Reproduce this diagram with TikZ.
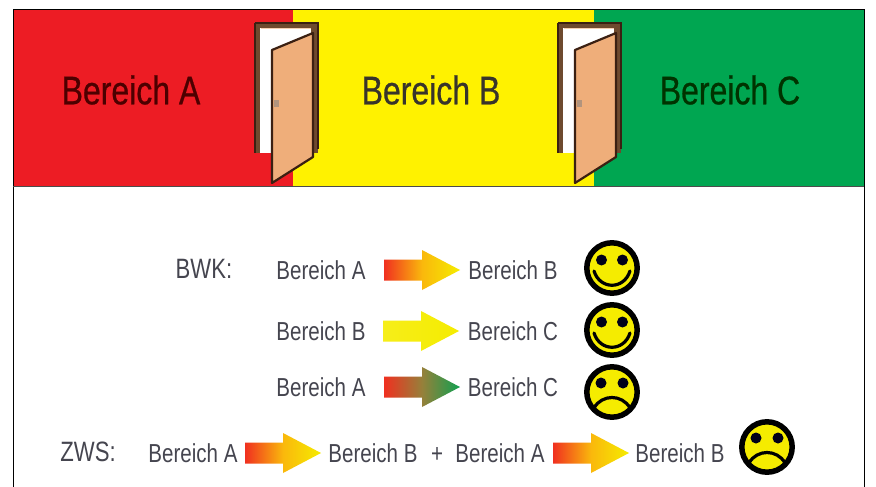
\documentclass[tikz,border=0pt]{standalone}
\usepackage{fontspec}
\setmainfont[FakeStretch=0.79]{Liberation Sans}
\newfontfamily\bigfont[FakeStretch=0.8,FakeBold=0.6]{Liberation Sans}
\definecolor{bandred}{HTML}{ED1C24}
\definecolor{bandyel}{HTML}{FFF200}
\definecolor{bandgrn}{HTML}{00A651}
\definecolor{doorfill}{HTML}{EFAE7A}
\definecolor{doordark}{HTML}{3B2012}
\definecolor{framebr}{HTML}{6E4A2E}
\definecolor{labelgray}{HTML}{45454F}
\definecolor{faceyel}{HTML}{F5EC00}
\definecolor{arrred}{HTML}{F03020}
\definecolor{arrmid}{HTML}{FAB80C}
\definecolor{arrbrown}{HTML}{96803A}
\definecolor{arrgreen}{HTML}{10A050}
\tikzset{
  x=1pt,y=-1pt,
  small/.style={font=\fontsize{26}{26}\selectfont,text=labelgray,inner sep=0pt},
  tagtext/.style={font=\fontsize{28}{28}\selectfont,text=labelgray,inner sep=0pt},
  big/.style={font=\bigfont\fontsize{40}{40}\selectfont,inner sep=0pt},
  warm/.style={left color=arrred,right color=faceyel,middle color=arrmid},
  pale/.style={left color=faceyel!90!white,right color=faceyel},
  mixed/.style={left color=arrred,right color=arrgreen,middle color=arrbrown},
  facering/.style={draw=black,line width=5.5pt,fill=faceyel},
  faceeye/.style={fill=black!90!blue},
  facemouth/.style={draw=black,line width=3.2pt,line cap=round},
  pics/blockarr/.style={code={
    \path[#1] (-38,-10.5) -- (0,-10.5) -- (0,-20) -- (38,0) -- (0,20) -- (0,10.5) -- (-38,10.5) -- cycle;
  }},
  doorframe/.pic={
    \fill[framebr] (0,0) rectangle (63,130);
    \fill[white] (5,5) rectangle (58,130);
    \fill[framebr] (56,5) rectangle (63,130);
    \draw[doordark,line width=1.2pt] (0,0) -- (63,0) -- (63,126);
    \draw[doordark,line width=1.2pt] (0,0) -- (0,130);
    \draw[doorfill!60!white,line width=1pt] (6,6) -- (56,6);
    \draw[doordark,line width=2.2pt,fill=doorfill,line join=round] (17,27) -- (58,10) -- (58,134) -- (17,160) -- cycle;
    \fill[gray!55!doorfill] (19,77) rectangle (24,84);
  },
  smileface/.pic={
    \draw[facering] (0,0) circle [radius=25.2];
    \fill[faceeye] (-10.5,-8) circle [radius=5.5];
    \fill[faceeye] (10.5,-8) circle [radius=5.5];
    \draw[facemouth] (-18,3) .. controls (-12,22) and (12,22) .. (18,3);
  },
  sadface/.pic={
    \draw[facering] (0,0) circle [radius=25.2];
    \fill[faceeye] (-11,-9) circle [radius=5.5];
    \fill[faceeye] (11,-9) circle [radius=5.5];
    \draw[facemouth] (-18,16) .. controls (-10,2) and (10,2) .. (18,16);
  }
}
\begin{document}
\begin{tikzpicture}
\useasboundingbox (0,0) rectangle (876,487);
\fill[white] (0,0) rectangle (876,487);
% bands
\fill[bandred] (13,10) rectangle (293,186);
\fill[bandyel] (293,10) rectangle (594,186);
\fill[bandgrn] (594,10) rectangle (864,186);
\draw[black,line width=1pt] (13,487) -- (13,10) -- (864,10) -- (864,487);
\draw[black!70,line width=0.7pt] (13,186) -- (864,186);
% doors
\pic at (255,23) {doorframe};
\pic at (558,23) {doorframe};
% band titles
\node[big,text=red!30!black] (ta) at (131,90) {Bereich A};
\node[big,text=black!80!olive] (tb) at (431,90) {Bereich B};
\node[big,text=green!20!black] (tc) at (730,90) {Bereich C};
% rows
\node[tagtext] (bwk) at (204,269) {BWK:};
\node[small] (r1a) at (321,270) {Bereich A};
\pic at (422,270) {blockarr={warm}};
\node[small] (r1b) at (513,270) {Bereich B};
\node[small] (r2a) at (321,331) {Bereich B};
\pic at (421,331) {blockarr={pale}};
\node[small] (r2b) at (513,331) {Bereich C};
\node[small] (r3a) at (321,387) {Bereich A};
\pic at (422,387) {blockarr={mixed}};
\node[small] (r3b) at (513,387) {Bereich C};
\pic at (612,268) {smileface};
\pic at (612,330) {smileface};
\pic at (612,392) {sadface};
% ZWS row
\node[tagtext] (zws) at (88,452) {ZWS:};
\node[small] (z1) at (193,453) {Bereich A};
\pic at (283,453) {blockarr={warm}};
\node[small] (z2) at (373,453) {Bereich B};
\node[small] (plus) at (437,455) {+};
\node[small] (z3) at (500,453) {Bereich A};
\pic at (591,453) {blockarr={warm}};
\node[small] (z4) at (680,453) {Bereich B};
\pic at (767,447) {sadface};
\end{tikzpicture}
\end{document}
